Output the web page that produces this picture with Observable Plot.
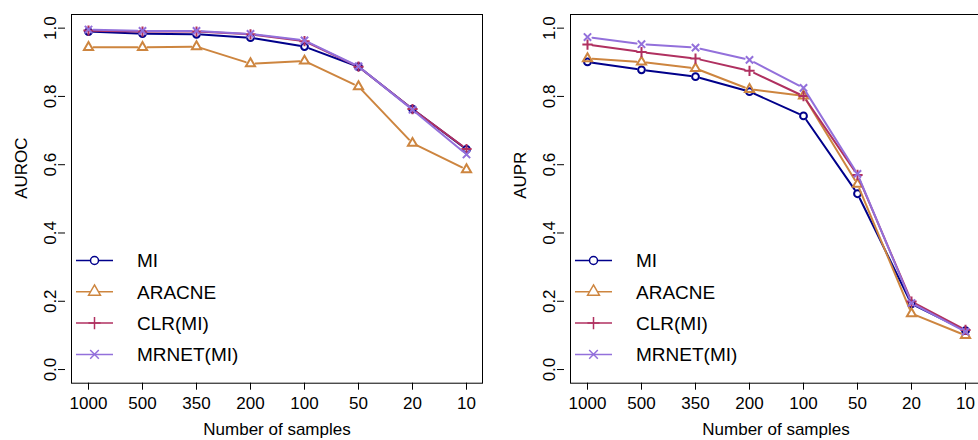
<!DOCTYPE html>
<html><head><meta charset="utf-8">
<script src="https://cdn.jsdelivr.net/npm/d3@7"></script>
<script src="https://cdn.jsdelivr.net/npm/@observablehq/plot@0.6"></script>
<style>
html,body{margin:0;padding:0;background:#fff;overflow:hidden;width:978px;height:440px}
#wrap{position:relative;width:978px;height:440px;overflow:hidden;font-family:"Liberation Sans",Arial,sans-serif}
.panel{position:absolute;top:0;width:489px;height:440px}
.panel svg{font-family:"Liberation Sans",Arial,sans-serif;overflow:visible}
</style></head><body><div id="wrap"></div>
<script>
const samples = ["1000","500","350","200","100","50","20","10"];
const methods = ["MI","ARACNE","CLR(MI)","MRNET(MI)"];
const colors = ["#00008B","#CD853F","#B03060","#9370DB"];
const symbols = ["circle","triangle","plus","times"];
const yTicks = [0,0.2,0.4,0.6,0.8,1.0];

const aurocMI     = [0.990,0.984,0.982,0.972,0.946,0.887,0.763,0.645];
const aurocARACNE = [0.944,0.944,0.946,0.896,0.904,0.829,0.663,0.586];
const aurocCLR    = [0.993,0.990,0.990,0.982,0.962,0.887,0.763,0.646];
const aurocMRNET  = [0.996,0.992,0.992,0.983,0.964,0.888,0.761,0.630];

const auprMI     = [0.901,0.878,0.858,0.814,0.743,0.515,0.192,0.114];
const auprARACNE = [0.911,0.901,0.882,0.821,0.802,0.543,0.164,0.100];
const auprCLR    = [0.952,0.930,0.911,0.875,0.801,0.570,0.199,0.116];
const auprMRNET  = [0.974,0.953,0.943,0.907,0.825,0.573,0.195,0.111];

const d3sym = {circle: d3.symbolCircle, triangle: d3.symbolTriangle, plus: d3.symbolPlus, times: d3.symbolTimes};

function seriesMarks(vals, k) {
  const pts = samples.map((s, i) => ({s, v: vals[i]}));
  const segs = d3.pairs(pts).map(([a, b]) => ({x1: a.s, y1: a.v, x2: b.s, y2: b.v}));
  return [
    Plot.arrow(segs, {x1: "x1", y1: "y1", x2: "x2", y2: "y2", stroke: colors[k], strokeWidth: 2, headLength: 0, inset: 5}),
    Plot.dot(pts, {x: "s", y: "v", symbol: symbols[k], stroke: colors[k], strokeWidth: 2, r: 3.4, fill: "none"})
  ];
}

function panel(left, ylabel, seriesList) {
  const div = document.createElement("div");
  div.className = "panel";
  div.style.left = left + "px";
  document.getElementById("wrap").appendChild(div);
  const chart = Plot.plot({
    width: 489, height: 440,
    marginLeft: 71, marginRight: 7, marginTop: 14, marginBottom: 57.3,
    style: {fontSize: "17px", fontFamily: "Liberation Sans, Arial, sans-serif", color: "#000", background: "transparent"},
    x: {type: "point", domain: samples, padding: 0.28},
    y: {domain: [-0.04, 1.04]},
    marks: [
      Plot.frame({stroke: "#000", strokeWidth: 1}),
      Plot.axisX({tickSize: 7, tickPadding: 6.5, fontSize: 17, label: "Number of samples", labelAnchor: "center", labelOffset: 52}),
      Plot.axisY(yTicks, {tickSize: 7, tickRotate: -90, fontSize: 17, dx: -6, tickFormat: d => d.toFixed(1), label: null}),
      Plot.text([ylabel], {frameAnchor: "left", rotate: -90, dx: -45, lineAnchor: "bottom", fontSize: 17, fill: "#000"}),
      ...seriesList.flatMap((vals, k) => seriesMarks(vals, k))
    ]
  });
  div.appendChild(chart);

  const svg = d3.select(div).append("svg")
    .attr("width", 489).attr("height", 440)
    .style("position", "absolute").style("left", "0px").style("top", "0px");
  methods.forEach((m, k) => {
    const y = 260.5 + k * 31.3;
    svg.append("line").attr("x1", 76).attr("x2", 113).attr("y1", y).attr("y2", y)
      .attr("stroke", colors[k]).attr("stroke-width", 1.5);
    const r = k === 1 ? 4.4 : 4;
    svg.append("path").attr("transform", `translate(94.5,${y})`)
      .attr("d", d3.symbol(d3sym[symbols[k]], Math.PI * r * r)())
      .attr("fill", k < 2 ? "white" : "none").attr("stroke", colors[k]).attr("stroke-width", 1.5);
    svg.append("text").attr("x", 137).attr("y", y).attr("dy", "0.36em")
      .attr("font-size", 19).attr("fill", "#000").text(m);
  });
}

panel(0, "AUROC", [aurocMI, aurocARACNE, aurocCLR, aurocMRNET]);
panel(499, "AUPR", [auprMI, auprARACNE, auprCLR, auprMRNET]);
</script></body></html>
